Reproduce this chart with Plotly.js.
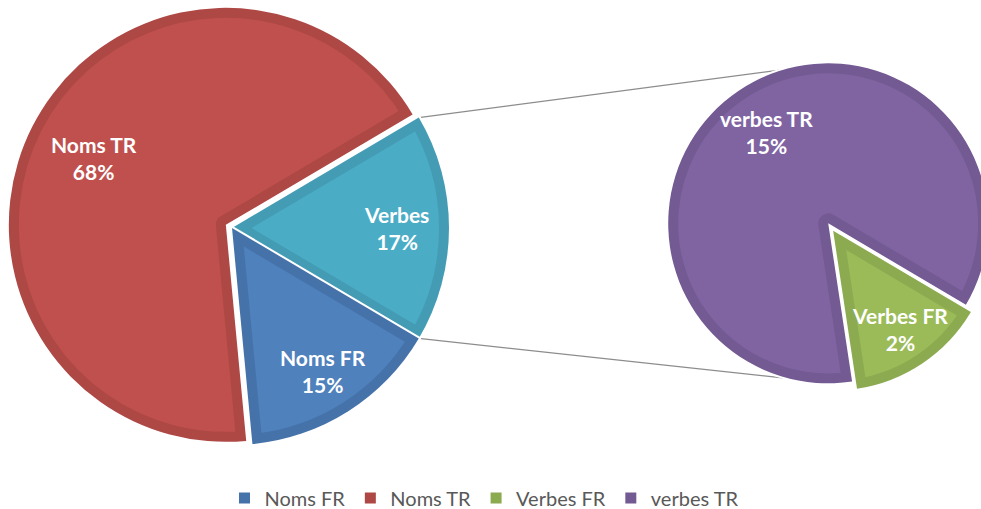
<!DOCTYPE html>
<html>
<head>
<meta charset="utf-8">
<script src="https://cdn.plot.ly/plotly-3.0.1.min.js"></script>
<style>
html,body{margin:0;padding:0;overflow:hidden;background:#ffffff;}
#chart{width:1000px;height:509px;}
</style>
</head>
<body>
<div id="chart"></div>
<script>
// ---------- DATA ----------
const mainLabels = ['Verbes', 'Noms FR', 'Noms TR'];
const mainValues = [17, 15, 68];
const subLabels = ['Verbes FR', 'verbes TR'];
const subValues = [2.4, 14.6];
const legendLabels = ['Noms FR', 'Noms TR', 'Verbes FR', 'verbes TR'];

// ---------- STYLE ----------
const fillColor = {'Verbes':'#4BACC6','Noms FR':'#4F81BD','Noms TR':'#C0504D','Verbes FR':'#9BBB59','verbes TR':'#8064A2'};
const bandColor = {'Verbes':'#449CB4','Noms FR':'#4672AA','Noms TR':'#AE4845','Verbes FR':'#8CAA50','verbes TR':'#735A93'};
const W = 1000, H = 509;
const geoL = {cx:232, cy:228, r:217, pull:{'Noms TR':0.032}};
const geoR = {cx:830, cy:226, r:160, pull:{'verbes TR':0.02,'Verbes FR':0.035}, firstMid:146};
const labelR = {'Noms TR':0.68,'Verbes':0.76,'Noms FR':0.78,'verbes TR':0.69,'Verbes FR':0.745};
const connectorEndAngles = [344, 194];
const bandWidth = 20;

const total = mainValues.reduce((a,b)=>a+b,0);
const subTotal = subValues.reduce((a,b)=>a+b,0);

function domainFor(g, labels){
  const mp = Math.max(0, ...labels.map(l=>g.pull[l]||0));
  const h = g.r*(1+mp);
  return {x:[(g.cx-h)/W,(g.cx+h)/W], y:[Math.max(0,1-(g.cy+h)/H), Math.min(1,1-(g.cy-h)/H)]};
}
const rotL = 90 - mainValues[0]/total*180;
const rotR = geoR.firstMid - subValues[0]/subTotal*180;

function dirOf(deg){ const a=deg*Math.PI/180; return [Math.sin(a), -Math.cos(a)]; }
function toPaper(x,y){ return [x/W, 1-y/H]; }

// annotations computed from pie geometry
const annotations = [];
function addLabels(labels, values, sum, rot, g){
  let ang = rot;
  labels.forEach((l,i)=>{
    const span = values[i]/sum*360;
    const mid = ang + span/2;
    const d = dirOf(mid);
    const p = (g.pull[l]||0)*g.r;
    const cx = g.cx + d[0]*p, cy = g.cy + d[1]*p;
    const k = labelR[l]*g.r;
    const pp = toPaper(cx + d[0]*k, cy + d[1]*k);
    const pct = Math.round(values[i]/total*100);
    annotations.push({xref:'paper', yref:'paper', x:pp[0], y:pp[1], xanchor:'center', yanchor:'middle',
      showarrow:false, text:'<b>'+l+'</b><br><b>'+pct+'%</b>',
      font:{family:'Lato, sans-serif', size:21, color:'#ffffff'}});
    ang += span;
  });
}
addLabels(mainLabels, mainValues, total, rotL, geoL);
addLabels(subLabels, subValues, subTotal, rotR, geoR);

// connectors from main "Verbes" slice corners to secondary pie
const tealSpan = mainValues[0]/total*360;
const purpleMid = rotR + subValues[0]/subTotal*360 + subValues[1]/subTotal*180;
const pd = dirOf(purpleMid);
const pcx = geoR.cx + pd[0]*geoR.pull['verbes TR']*geoR.r, pcy = geoR.cy + pd[1]*geoR.pull['verbes TR']*geoR.r;
const shapes = [];
[rotL, rotL+tealSpan].forEach((a,i)=>{
  const d1 = dirOf(a);
  const s = toPaper(geoL.cx + d1[0]*geoL.r, geoL.cy + d1[1]*geoL.r);
  const d2 = dirOf(connectorEndAngles[i]);
  const e = toPaper(pcx + d2[0]*geoR.r, pcy + d2[1]*geoR.r);
  shapes.push({type:'line', xref:'paper', yref:'paper', x0:s[0], y0:s[1], x1:e[0], y1:e[1], layer:'below',
    line:{color:'#8c8c8c', width:1.2}});
});

const traces = [
  {type:'pie', labels:mainLabels, values:mainValues, sort:false, direction:'clockwise', rotation:rotL,
   domain:domainFor(geoL, mainLabels), pull:mainLabels.map(l=>geoL.pull[l]||0),
   marker:{colors:mainLabels.map(l=>fillColor[l]), line:{color:'#ffffff', width:4}},
   textinfo:'none', hoverinfo:'none', showlegend:false},
  {type:'pie', labels:subLabels, values:subValues, sort:false, direction:'clockwise', rotation:rotR,
   domain:domainFor(geoR, subLabels), pull:subLabels.map(l=>geoR.pull[l]||0),
   marker:{colors:subLabels.map(l=>fillColor[l]), line:{color:'#ffffff', width:4}},
   textinfo:'none', hoverinfo:'none', showlegend:false}
];
legendLabels.forEach(l=>{
  traces.push({type:'scatter', x:[null], y:[null], mode:'markers', name:l,
    marker:{symbol:'square', size:11, color:bandColor[l]}, hoverinfo:'skip', showlegend:true});
});

const layout = {
  width:W, height:H, margin:{l:0,r:0,t:0,b:0,autoexpand:false}, paper_bgcolor:'#ffffff', plot_bgcolor:'rgba(0,0,0,0)',
  xaxis:{visible:false}, yaxis:{visible:false},
  showlegend:true,
  legend:{orientation:'h', x:484/W, xanchor:'center', y:1-498/H, yanchor:'middle',
    font:{family:'Lato, sans-serif', size:20, color:'#595959'}, itemwidth:30, bgcolor:'rgba(0,0,0,0)'},
  shapes:shapes, annotations:annotations
};

Plotly.newPlot('chart', traces, layout, {staticPlot:true, displayModeBar:false}).then(gd=>{
  const NS = 'http://www.w3.org/2000/svg';
  const svg = gd.querySelector('svg.main-svg');
  let defs = svg.querySelector('defs');
  if(!defs){ defs = document.createElementNS(NS,'defs'); svg.insertBefore(defs, svg.firstChild); }
  const order = mainLabels.concat(subLabels);
  gd.querySelectorAll('g.slice path.surface').forEach((p,i)=>{
    const dat = p.__data__ || {};
    const lab = dat.label !== undefined ? dat.label : order[i];
    const id = 'bandclip'+i;
    const cp = document.createElementNS(NS,'clipPath'); cp.setAttribute('id', id);
    const cpp = document.createElementNS(NS,'path'); cpp.setAttribute('d', p.getAttribute('d'));
    cp.appendChild(cpp); defs.appendChild(cp);
    const c = p.cloneNode(false);
    c.style.fill = 'none';
    c.style.stroke = bandColor[lab] || '#000';
    c.style.strokeWidth = bandWidth + 'px';
    c.style.pointerEvents = 'none';
    c.setAttribute('clip-path', 'url(#'+id+')');
    p.parentNode.insertBefore(c, p.nextSibling);
  });
});
</script>
</body>
</html>
